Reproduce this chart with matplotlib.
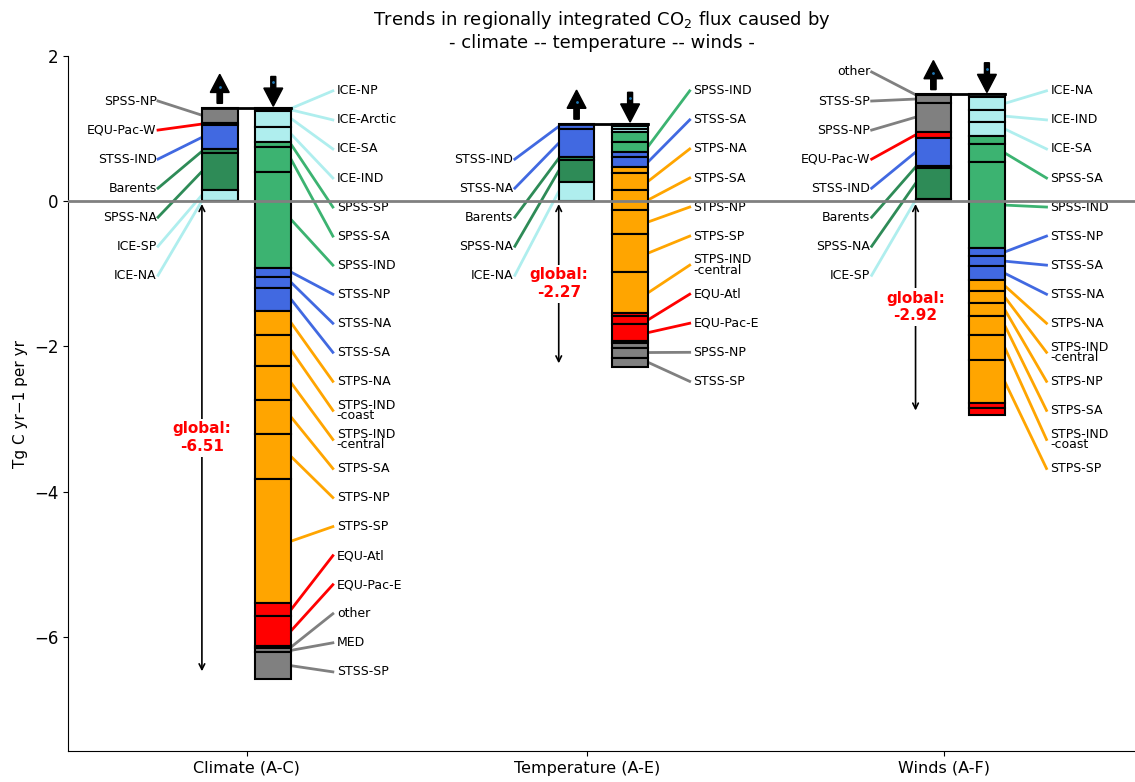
import numpy as np
import matplotlib
matplotlib.use('Agg')
import matplotlib.pyplot as plt

groups = ['Climate (A-C)', 'Temperature (A-E)', 'Winds (A-F)']
group_ticks = [0.0, 0.955, 1.955]
global_flux = [-6.51, -2.27, -2.92]

# positive contributions, from the top of the bar down to zero
# (a leading "_" means the segment is drawn but gets no label)
clim_pos_names = ['SPSS-NP', 'EQU-Pac-W', 'STSS-IND', 'Barents', 'SPSS-NA', 'ICE-SP', 'ICE-NA']
clim_pos_vals = [0.207, 0.036, 0.33, 0.055, 0.50, 0.15, 0.01]

temp_pos_names = ['STSS-IND', 'STSS-NA', 'Barents', 'SPSS-NA', 'ICE-NA']
temp_pos_vals = [0.08, 0.38, 0.04, 0.30, 0.27]

wind_pos_names = ['other', 'STSS-SP', 'SPSS-NP', 'EQU-Pac-W', 'STSS-IND', 'Barents', 'SPSS-NA', 'ICE-SP']
wind_pos_vals = [0.02, 0.10, 0.40, 0.087, 0.39, 0.02, 0.43, 0.03]

# negative contributions, from the top of the bar downwards
clim_neg_names = ['ICE-NP', 'ICE-Arctic', 'ICE-SA', 'ICE-IND', 'SPSS-SP', 'SPSS-SA', 'SPSS-IND',
                  'STSS-NP', 'STSS-NA', 'STSS-SA', 'STPS-NA', 'STPS-IND\n-coast', 'STPS-IND\n-central',
                  'STPS-SA', 'STPS-NP', 'STPS-SP', 'EQU-Atl', 'EQU-Pac-E', 'other', 'MED', 'STSS-SP']
clim_neg_vals = [0.02, 0.02, 0.22, 0.207, 0.077, 0.336, 1.322,
                 0.124, 0.16, 0.308, 0.335, 0.423, 0.472,
                 0.472, 0.616, 1.712, 0.171, 0.413, 0.036, 0.055, 0.368]

temp_neg_names = ['_ICE-NP', '_ICE-SP', '_ICE-SA', '_SPSS-SA', 'SPSS-IND', '_STSS-NP', 'STSS-SA',
                  '_STPS-IND', 'STPS-NA', 'STPS-SA', 'STPS-NP', 'STPS-SP', 'STPS-IND\n-central',
                  '_EQU-Pac-W', 'EQU-Atl', 'EQU-Pac-E', '_other', '_MED', 'SPSS-NP', 'STSS-SP']
temp_neg_vals = [0.04, 0.04, 0.04, 0.13, 0.138, 0.07, 0.145,
                 0.076, 0.237, 0.275, 0.33, 0.528, 0.565,
                 0.03, 0.12, 0.23, 0.025, 0.065, 0.138, 0.13]

wind_neg_names = ['_ICE-Arctic', 'ICE-NA', 'ICE-IND', 'ICE-SA', '_SPSS-SP', 'SPSS-SA', 'SPSS-IND',
                  'STSS-NP', 'STSS-SA', 'STSS-NA', 'STPS-NA', 'STPS-IND\n-central', 'STPS-NP',
                  'STPS-SA', 'STPS-IND\n-coast', 'STPS-SP', '_EQU-Atl', '_EQU-Pac-E']
wind_neg_vals = [0.04, 0.18, 0.17, 0.185, 0.107, 0.26, 1.176,
                 0.114, 0.14, 0.194, 0.15, 0.16, 0.185,
                 0.252, 0.354, 0.585, 0.076, 0.09]

pos_names = [clim_pos_names, temp_pos_names, wind_pos_names]
pos_vals = [clim_pos_vals, temp_pos_vals, wind_pos_vals]
neg_names = [clim_neg_names, temp_neg_names, wind_neg_names]
neg_vals = [clim_neg_vals, temp_neg_vals, wind_neg_vals]

special_colors = {'SPSS-NA': 'seagreen', 'Barents': 'seagreen', 'SPSS-NP': 'grey',
                  'STSS-SP': 'grey', 'other': 'grey', 'MED': 'grey'}
prefix_colors = {'ICE': 'paleturquoise', 'SPSS': 'mediumseagreen', 'STSS': 'royalblue',
                 'STPS': 'orange', 'EQU': 'red'}


def region_color(name):
    name = name.lstrip('_').split('\n')[0]
    if name in special_colors:
        return special_colors[name]
    return prefix_colors[name.split('-')[0]]


bar_w = 0.1
off = 0.075
label_fs = 9

fig = plt.figure(figsize=(11.35, 7.82), dpi=100)
ax = fig.add_axes([0.06, 0.0396, 0.94, 0.8888])

for i in range(3):
    top = sum(pos_vals[i])
    xp = i - off
    xn = i + off

    # positive stack (left bar), labels on the left
    y = top
    labelled = [n for n in pos_names[i] if not n.startswith('_')]
    k = 0
    for name, v in zip(pos_names[i], pos_vals[i]):
        c = region_color(name)
        ax.bar(xp, v, bottom=y - v, width=bar_w, color=c, edgecolor='k', linewidth=1.5, zorder=3)
        if not name.startswith('_'):
            ly = -1.02 + 0.4 * (len(labelled) - 1 - k)
            ax.plot([i - 0.248, xp - bar_w / 2], [ly, y - v / 2], color=c, lw=2, zorder=2)
            ax.text(i - 0.252, ly, name, ha='right', va='center', fontsize=label_fs)
            k += 1
        y -= v

    # negative stack (right bar), labels on the right
    y = top
    k = 0
    for name, v in zip(neg_names[i], neg_vals[i]):
        c = region_color(name)
        ax.bar(xn, v, bottom=y - v, width=bar_w, color=c, edgecolor='k', linewidth=1.5, zorder=3)
        if not name.startswith('_'):
            ly = 1.52 - 0.4 * k
            ax.plot([xn + bar_w / 2, i + 0.242], [y - v / 2, ly], color=c, lw=2, zorder=2)
            ax.text(i + 0.253, ly, name, ha='left', va='center', fontsize=label_fs, linespacing=0.75)
            k += 1
        y -= v

    # connector across the top of both bars
    ax.plot([xp - bar_w / 2, xn + bar_w / 2], [top, top], color='k', lw=2, zorder=4)

    # up / down arrows (with the little blue dot seen in the original)
    ax.arrow(xp, top + 0.06, 0, 0.40, width=0.015, head_width=0.053, head_length=0.25,
             length_includes_head=True, color='k', zorder=4)
    ax.arrow(xn, top + 0.43, 0, -0.41, width=0.014, head_width=0.053, head_length=0.25,
             length_includes_head=True, color='k', zorder=4)
    ax.plot([xp, xn], [top + 0.29, top + 0.35], '.', color='tab:blue', ms=2, zorder=5)

    # global total
    g = global_flux[i]
    ax.annotate('', xy=(i - 0.125, g), xytext=(i - 0.125, 0),
                arrowprops=dict(arrowstyle='<->', color='k', lw=1.2))
    ax.text(i - 0.125, g / 2, 'global:\n%.2f' % g, color='red', fontweight='bold', fontsize=11,
            ha='center', va='center', zorder=6,
            bbox=dict(facecolor='white', edgecolor='none', pad=2))

ax.axhline(0, color='grey', lw=2, zorder=5)

ax.set_xlim(-0.5, 2.49)
ax.set_ylim(-7.57, 2)
ax.set_xticks(group_ticks)
ax.set_xticklabels(groups, fontsize=11.5)
ax.set_yticks([2, 0, -2, -4, -6])
ax.tick_params(axis='y', labelsize=12)
ax.set_ylabel('Tg C yr\u22121 per yr', fontsize=11)
ax.set_title('Trends in regionally integrated CO$_2$ flux caused by\n- climate -- temperature -- winds -',
             fontsize=13)
ax.spines['top'].set_visible(False)
ax.spines['right'].set_visible(False)

fig.savefig('out.png', dpi=100)
